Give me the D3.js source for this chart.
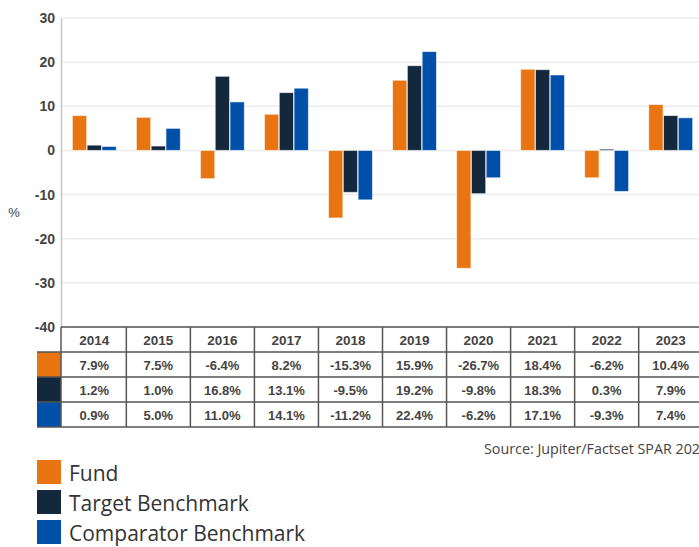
<!DOCTYPE html>
<html>
<head>
<meta charset="utf-8">
<script src="https://cdn.jsdelivr.net/npm/d3@7/dist/d3.min.js"></script>
<style>
  body { margin: 0; background: #fff; }
  svg { display: block; }
</style>
</head>
<body>
<script>
var years = ["2014", "2015", "2016", "2017", "2018", "2019", "2020", "2021", "2022", "2023"];
var fund = [7.9, 7.5, -6.4, 8.2, -15.3, 15.9, -26.7, 18.4, -6.2, 10.4];
var target = [1.2, 1.0, 16.8, 13.1, -9.5, 19.2, -9.8, 18.3, 0.3, 7.9];
var comparator = [0.9, 5.0, 11.0, 14.1, -11.2, 22.4, -6.2, 17.1, -9.3, 7.4];
var seriesNames = ["Fund", "Target Benchmark", "Comparator Benchmark"];
var colors = ["#e87511", "#14283d", "#0050aa"];
var yTicks = [30, 20, 10, 0, -10, -20, -30, -40];

var series = [fund, target, comparator];

var svgWidth = 699, svgHeight = 547;
var plotLeft = 61, plotRight = 704, plotTop = 18, plotBottom = 327;
var rowH = 25;

var svg = d3.select("body").append("svg")
    .attr("width", svgWidth)
    .attr("height", svgHeight);

var x0 = d3.scaleBand().domain(years).range([plotLeft, plotRight]).paddingInner(0.3).paddingOuter(0.17);
var x1 = d3.scaleBand().domain([0, 1, 2]).range([0, x0.bandwidth()]).padding(0.03);
var y = d3.scaleLinear().domain([-40, 30]).range([plotBottom, plotTop]);

// gridlines
svg.append("g")
  .selectAll("line")
  .data(yTicks)
  .join("line")
    .attr("x1", plotLeft)
    .attr("x2", svgWidth)
    .attr("y1", d => y(d))
    .attr("y2", d => y(d))
    .attr("stroke", "#ececec")
    .attr("stroke-width", 1.5);

// y axis (plain hyphen for negatives, like the original)
var yAxis = svg.append("g")
    .attr("transform", "translate(" + plotLeft + ",0)")
    .call(d3.axisLeft(y).tickValues(yTicks).tickFormat(d => String(d)).tickSize(0).tickPadding(6));
yAxis.select(".domain").attr("stroke", "#c8c8c8").attr("stroke-width", 1.5);
yAxis.selectAll("text")
    .attr("font-family", "Liberation Sans, Arial, sans-serif")
    .attr("font-weight", "bold")
    .attr("font-size", 14)
    .attr("fill", "#444");

svg.append("text")
    .attr("x", 14)
    .attr("y", 217)
    .attr("text-anchor", "middle")
    .attr("font-family", "Liberation Sans, Arial, sans-serif")
    .attr("font-size", 13)
    .attr("fill", "#444")
    .text("%");

// bars
var groups = svg.append("g")
  .selectAll("g")
  .data(series)
  .join("g")
    .attr("fill", (d, i) => colors[i]);

groups.selectAll("rect")
  .data((d, i) => d.map((v, j) => ({ v: v, year: years[j], s: i })))
  .join("rect")
    .attr("x", d => x0(d.year) + x1(d.s))
    .attr("width", x1.bandwidth())
    .attr("y", d => y(Math.max(0, d.v)))
    .attr("height", d => Math.abs(y(d.v) - y(0)))
    .attr("stroke", "#fff")
    .attr("stroke-opacity", 0.6)
    .attr("stroke-width", 1);

// table
var tbl = svg.append("g");
var cellFont = "Liberation Sans, Arial, sans-serif";

// colour keys in first column
tbl.selectAll("rect.key")
  .data(colors)
  .join("rect")
    .attr("class", "key")
    .attr("x", 37)
    .attr("y", (d, i) => plotBottom + rowH * (i + 1))
    .attr("width", plotLeft - 37)
    .attr("height", rowH)
    .attr("fill", d => d);

// header
tbl.selectAll("text.hdr")
  .data(years)
  .join("text")
    .attr("class", "hdr")
    .attr("x", d => x0(d) + x0.bandwidth() / 2)
    .attr("y", plotBottom + rowH / 2 + 5)
    .attr("text-anchor", "middle")
    .attr("font-family", cellFont)
    .attr("font-weight", "bold")
    .attr("font-size", 13.5)
    .attr("fill", "#444")
    .text(d => d);

series.forEach(function(vals, i) {
  tbl.append("g").selectAll("text")
    .data(vals)
    .join("text")
      .attr("x", (d, j) => x0(years[j]) + x0.bandwidth() / 2)
      .attr("y", plotBottom + rowH * (i + 1) + rowH / 2 + 5)
      .attr("text-anchor", "middle")
      .attr("font-family", cellFont)
      .attr("font-weight", "bold")
      .attr("font-size", 13)
      .attr("fill", "#444")
      .text(d => d.toFixed(1) + "%");
});

// table lines
var step = x0.step();
var colEdges = years.map(d => x0(d) - x0.paddingInner() * step / 2).concat([plotRight]);
colEdges[0] = plotLeft;
tbl.selectAll("line.v")
  .data(colEdges)
  .join("line")
    .attr("x1", d => d).attr("x2", d => d)
    .attr("y1", plotBottom).attr("y2", plotBottom + rowH * 4)
    .attr("stroke", "#555").attr("stroke-width", 1.5);
tbl.selectAll("line.h")
  .data([0, 1, 2, 3, 4])
  .join("line")
    .attr("x1", d => d === 0 ? plotLeft : 37)
    .attr("x2", svgWidth)
    .attr("y1", d => plotBottom + rowH * d)
    .attr("y2", d => plotBottom + rowH * d)
    .attr("stroke", "#555").attr("stroke-width", 1.5);

// source
svg.append("text")
    .attr("x", 484)
    .attr("y", 454)
    .attr("font-family", "Open Sans, sans-serif")
    .attr("font-size", 14.3)
    .attr("fill", "#444")
    .text("Source: Jupiter/Factset SPAR 2023");

// legend
var legend = svg.append("g")
  .selectAll("g")
  .data(seriesNames)
  .join("g")
    .attr("transform", (d, i) => "translate(37," + (460 + i * 30) + ")");
legend.append("rect")
    .attr("width", 24).attr("height", 24)
    .attr("fill", (d, i) => colors[i]);
legend.append("text")
    .attr("x", 32)
    .attr("y", 21)
    .attr("font-family", "Open Sans, sans-serif")
    .attr("font-size", 21)
    .attr("fill", "#333")
    .text(d => d);
</script>
</body>
</html>
